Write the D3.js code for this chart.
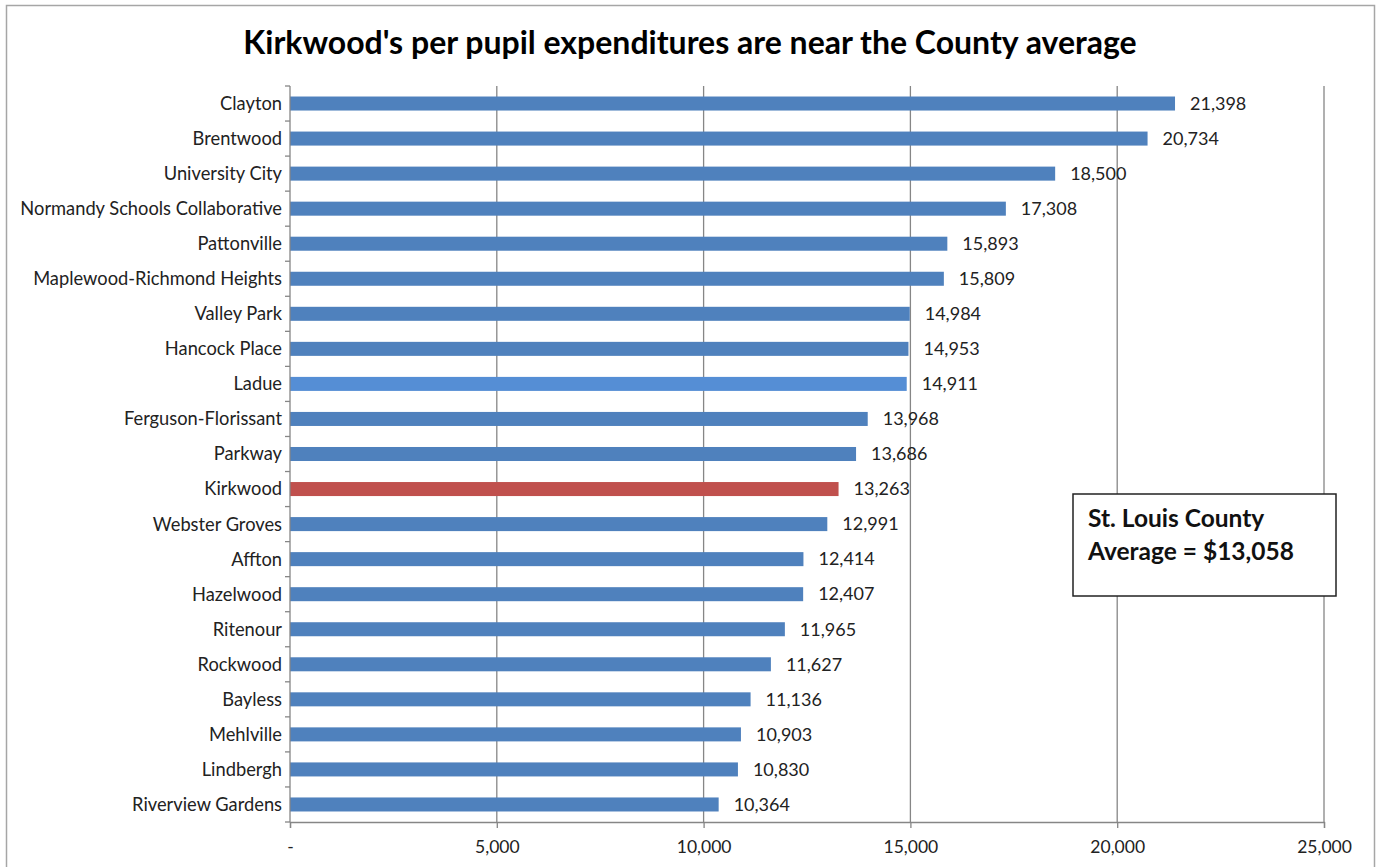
<!DOCTYPE html>
<html>
<head>
<meta charset="utf-8">
<script src="https://cdn.jsdelivr.net/npm/d3@7"></script>
<style>
  body { margin: 0; background: #fff; }
  svg { font-family: Lato, "Open Sans", "Liberation Sans", sans-serif; }
</style>
</head>
<body>
<div id="graph_box"></div>
<script>
// district names top to bottom, with per pupil expenditures
const districts = ["Clayton", "Brentwood", "University City", "Normandy Schools Collaborative",
  "Pattonville", "Maplewood-Richmond Heights", "Valley Park", "Hancock Place", "Ladue",
  "Ferguson-Florissant", "Parkway", "Kirkwood", "Webster Groves", "Affton", "Hazelwood",
  "Ritenour", "Rockwood", "Bayless", "Mehlville", "Lindbergh", "Riverview Gardens"];
const spending = [21398, 20734, 18500, 17308, 15893, 15809, 14984, 14953, 14911,
  13968, 13686, 13263, 12991, 12414, 12407, 11965, 11627, 11136, 10903, 10830, 10364];
const xTicks = [0, 5000, 10000, 15000, 20000, 25000];
const title = "Kirkwood's per pupil expenditures are near the County average";
const noteLines = ["St. Louis County", "Average = $13,058"];

const W = 1379, H = 867;
const margin = { top: 86, right: 55, bottom: 45, left: 290 };
const width = 1324 - margin.left, height = 822 - margin.top;

const svg = d3.select("#graph_box").append("svg")
  .attr("width", W).attr("height", H);

// outer chart frame
svg.append("rect").attr("x", 6.5).attr("y", 5.5).attr("width", 1368).attr("height", 880)
  .attr("fill", "none").attr("stroke", "#a6a6a6").attr("stroke-width", 1.5);

svg.append("text")
  .attr("x", 690).attr("y", 54)
  .attr("text-anchor", "middle")
  .style("font-size", "32px").style("font-weight", "bold")
  .text(title);

const g = svg.append("g").attr("transform", `translate(${margin.left},${margin.top})`);

const x = d3.scaleLinear().domain([0, 25000]).range([0, width]);
const y = d3.scaleBand().domain(districts).range([0, height]).paddingInner(0.6).paddingOuter(0.3);

// vertical gridlines
g.selectAll("line.grid").data(xTicks.slice(1)).enter().append("line")
  .attr("class", "grid")
  .attr("x1", d => x(d)).attr("x2", d => x(d))
  .attr("y1", 0).attr("y2", height)
  .attr("stroke", "#868686").attr("stroke-width", 1.3);

// bars
g.selectAll("rect.bar").data(districts).enter().append("rect")
  .attr("class", "bar")
  .attr("x", 0)
  .attr("y", d => y(d))
  .attr("width", (d, i) => x(spending[i]))
  .attr("height", y.bandwidth())
  .attr("fill", d => d === "Kirkwood" ? "#c0504d" : d === "Ladue" ? "#558ed5" : "#4f81bd");

// value labels
g.selectAll("text.val").data(districts).enter().append("text")
  .attr("class", "val")
  .attr("x", (d, i) => x(spending[i]) + 15)
  .attr("y", d => y(d) + y.bandwidth() / 2)
  .attr("dy", "0.35em")
  .style("font-size", "18px").attr("fill", "#222")
  .text((d, i) => d3.format(",")(spending[i]));

// left axis: line plus ticks at band edges
const yAxis = g.append("g");
yAxis.append("line").attr("x1", 0).attr("x2", 0).attr("y1", 0).attr("y2", height)
  .attr("stroke", "#868686").attr("stroke-width", 1.3);
const step = height / districts.length;
yAxis.selectAll("line.tk").data(d3.range(districts.length + 1)).enter().append("line")
  .attr("class", "tk")
  .attr("x1", -5).attr("x2", 0)
  .attr("y1", d => d * step).attr("y2", d => d * step)
  .attr("stroke", "#868686").attr("stroke-width", 1.3);
yAxis.selectAll("text").data(districts).enter().append("text")
  .attr("x", -8)
  .attr("y", d => y(d) + y.bandwidth() / 2)
  .attr("dy", "0.35em")
  .attr("text-anchor", "end")
  .style("font-size", "18.3px").attr("fill", "#222")
  .text(d => d);

// bottom axis
const xAxis = g.append("g").attr("transform", `translate(0,${height})`)
  .call(d3.axisBottom(x).tickValues(xTicks).tickSize(6).tickPadding(13)
    .tickFormat(d => d === 0 ? "-" : d3.format(",")(d)));
xAxis.select(".domain").attr("stroke", "#868686").attr("stroke-width", 1.3);
xAxis.selectAll(".tick line").attr("stroke", "#868686").attr("stroke-width", 1.3);
xAxis.selectAll("text").style("font-size", "17.5px").attr("fill", "#222")
  .style("font-family", "Lato, 'Open Sans', sans-serif");

// annotation box
const note = svg.append("g").attr("transform", "translate(1073,494)");
note.append("rect").attr("width", 263).attr("height", 102)
  .attr("fill", "#fff").attr("stroke", "#222").attr("stroke-width", 1.5);
note.selectAll("text").data(noteLines).enter().append("text")
  .attr("x", 15).attr("y", (d, i) => 33 + i * 33)
  .style("font-size", "24.5px").style("font-weight", "bold").attr("fill", "#111")
  .text(d => d);
</script>
</body>
</html>
